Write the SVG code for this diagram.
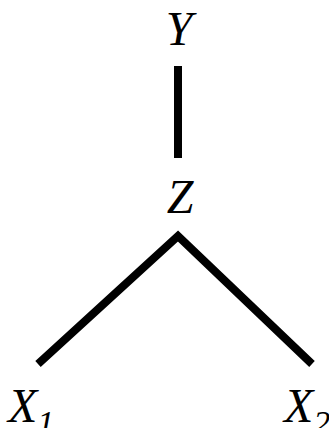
<svg xmlns="http://www.w3.org/2000/svg" width="329" height="428" viewBox="0 0 329 428">
<style>
text{font-family:"Liberation Serif","Times New Roman",serif;font-style:italic;font-size:48px;fill:#000}
.sub{font-size:34px}
.e{stroke:#000;stroke-width:8;fill:none}
</style>
<rect width="329" height="428" fill="#fff"/>
<g id="edges">
<line class="e" x1="178" y1="66" x2="178" y2="158"/>
<polyline class="e" points="38,364 178,236 312,364"/>
</g>
<g id="Y"><text x="179" y="45" text-anchor="middle">Y</text></g>
<g id="Z"><text x="180" y="213" text-anchor="middle">Z</text></g>
<g id="X1"><text x="8" y="422">X<tspan class="sub" dy="12">1</tspan></text></g>
<g id="X2"><text x="284" y="422">X<tspan class="sub" dy="12">2</tspan></text></g>
</svg>
